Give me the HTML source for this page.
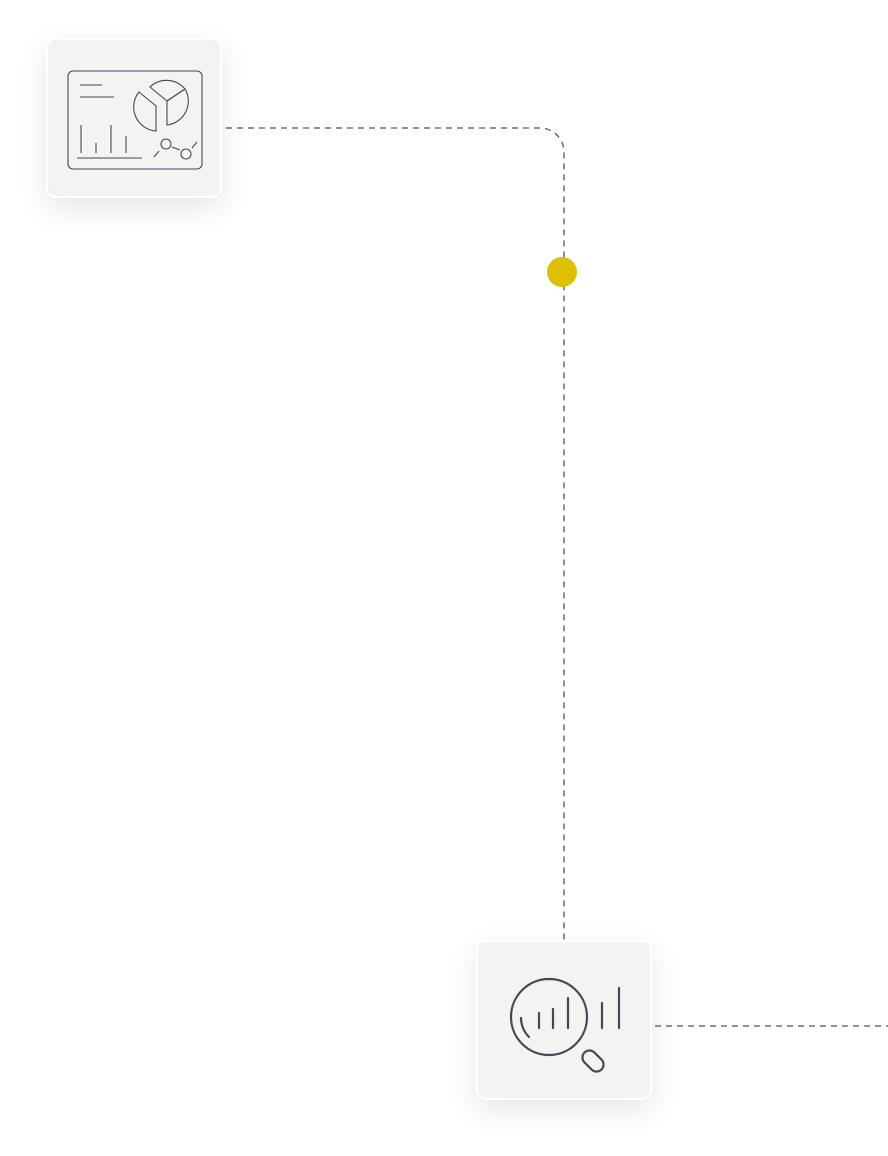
<!DOCTYPE html>
<html><head><style>
body{margin:0;width:888px;height:1156px;background:#fff;position:relative;overflow:hidden}
.box{position:absolute;width:172px;height:156px;background:#f4f3f1;border:2px solid #fff;border-radius:10px;box-shadow:0 10px 30px rgba(0,0,0,0.10)}
svg{position:absolute;left:0;top:0}
</style></head><body>
<svg width="888" height="1156" style="z-index:0">
<path d="M226 128 H540 A24 24 0 0 1 564 152 V940" fill="none" stroke="#555" stroke-width="1.3" stroke-dasharray="6 5"/>
<path d="M655 1026 H888" fill="none" stroke="#555" stroke-width="1.3" stroke-dasharray="6 5"/>
<circle cx="562" cy="272" r="15" fill="#dfc000"/>
</svg>
<div class="box" style="left:46px;top:38px"></div>
<div class="box" style="left:476px;top:940px"></div>
<svg width="888" height="1156" style="z-index:2">
<g fill="none" stroke="#3f4a58" stroke-width="1.1">
<rect x="68" y="71" width="134" height="98" rx="5"/>
<path d="M80 85H102M80 97H114M81 125V153M96 143V153M111 125V153M126 136V153M77 158H142"/>
<path d="M139 92 L156 106 V131 A24 24 0 0 1 139 92 Z"/>
<path d="M167 101 L150 87 A24 24 0 0 1 185 89 Z"/>
<path d="M167 101 L185 89 A24 24 0 0 1 167 125 Z"/>
<circle cx="166" cy="144" r="5"/><circle cx="186" cy="154" r="5"/>
<path d="M154 157 L159 151 M172 147 L180 150 M192 148 L197 142"/>
</g>
<g fill="none" stroke="#3f4a58" stroke-width="2.2" stroke-linecap="round">
<circle cx="549" cy="1017" r="38"/>
<path d="M521 1018 A28 28 0 0 0 529 1037"/>
<path d="M539 1013V1028M553 1009V1028M568 998V1028M602 1003V1028M619 988V1028"/>
<rect x="581" y="1054" width="24" height="14" rx="7" transform="rotate(45 593 1061)"/>
</g>
</svg>
</body></html>
